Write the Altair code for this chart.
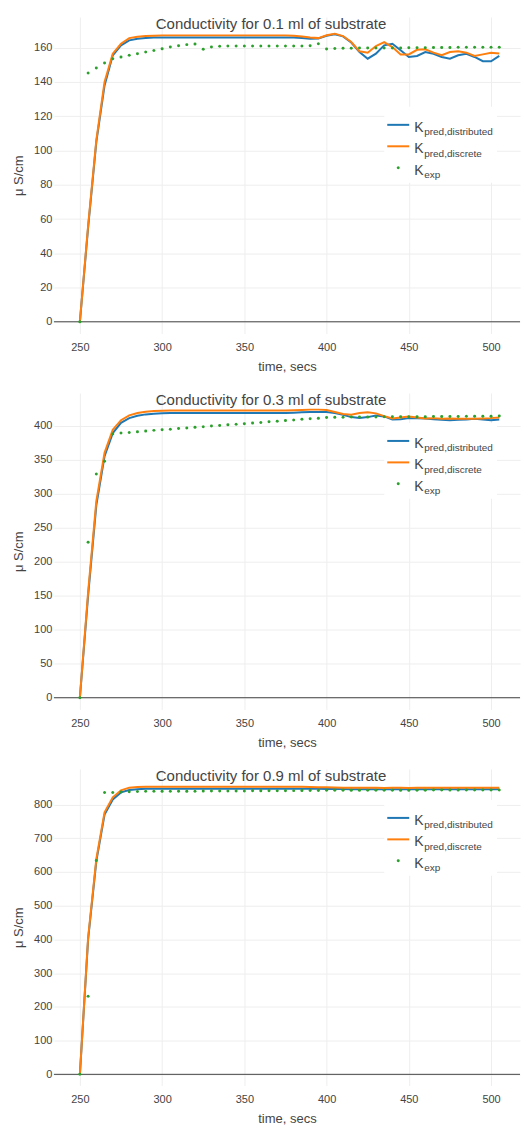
import altair as alt
import pandas as pd

# ---------------- data ----------------
time = [250, 255, 260, 265, 270, 275, 280, 285, 290, 295,
        300, 305, 310, 315, 320, 325, 330, 335, 340, 345,
        350, 355, 360, 365, 370, 375, 380, 385, 390, 395,
        400, 405, 410, 415, 420, 425, 430, 435, 440, 445,
        450, 455, 460, 465, 470, 475, 480, 485, 490, 495,
        500, 505]

p1_distributed = [0, 55, 105, 138, 155.6, 161.4, 164.3, 165.2, 165.6, 165.9,
                  166.0, 166.0, 166.0, 166.0, 166.0, 166.0, 166.0, 166.0, 166.0, 166.0,
                  166.0, 166.0, 166.0, 166.0, 166.0, 166.0,
                  165.9, 165.6, 165.2, 165.4, 167.0, 167.8, 166.6, 163.0, 157.5, 153.6,
                  156.5, 161.4, 162.3, 158.5, 154.6, 155.2, 157.5, 156.5, 154.6, 153.6,
                  155.6, 156.5, 154.6, 152.1, 152.1, 155.2]
p1_discrete = [0, 56, 106, 140, 156.5, 162.3, 165.6, 166.4, 166.8, 167.0,
               167.2, 167.2, 167.2, 167.2, 167.2, 167.2, 167.2, 167.2, 167.2, 167.2,
               167.2, 167.2, 167.2, 167.2, 167.2, 167.2,
               167.0, 166.5, 165.9, 165.6, 167.3, 168.2, 166.8, 163.3, 157.9, 157.1,
               161.0, 163.3, 160.4, 156.1, 156.1, 158.8, 159.1, 157.1, 155.6, 157.5,
               157.9, 157.1, 155.2, 156.1, 157.1, 156.6]
p1_exp = [0, 145.3, 148.2, 151.1, 153.5, 154.6, 155.6, 156.5, 157.5, 158.3,
          159.4, 160.4, 161.2, 161.8, 162.2, 159.1, 160.4, 160.9, 161.0, 161.0,
          161.0, 161.0, 161.0, 161.0, 161.0, 161.0,
          161.0, 161.0, 161.1, 162.3, 159.2, 159.6, 159.7, 159.7, 159.8, 159.8,
          159.8, 159.9, 159.9, 159.9, 160.0, 160.0, 160.0, 160.1, 160.1, 160.1,
          160.2, 160.2, 160.2, 160.3, 160.3, 160.3]

p2_distributed = [0, 150, 283, 355, 389, 404, 411, 414.5, 416.5, 417.5, 418,
                  418.5, 418.5, 418.5, 418.5, 418.5, 418.5, 418.5, 418.5, 418.5, 418.5,
                  418.5, 418.5, 418.5, 418.5, 418.5,
                  419, 419.5, 420, 420, 420, 418.5, 416, 412.5, 411.2, 412.5,
                  415, 413.5, 409, 409.5, 411, 411, 410.5, 409.5, 408.5, 408,
                  408.5, 409, 410, 409, 408, 409]
p2_discrete = [0, 155, 289, 360, 394, 408, 415, 418.5, 420.5, 421.5, 422,
               422.2, 422.2, 422.2, 422.2, 422.2, 422.2, 422.2, 422.2, 422.2, 422.2,
               422.2, 422.2, 422.2, 422.2, 422.2,
               422.5, 423, 423.5, 423.5, 423, 420, 417, 416, 418.5, 419.5,
               418, 414, 410.5, 412, 413.5, 412, 410.5, 411, 410, 410.5,
               410, 410, 410, 410.5, 411, 412]
p2_exp = [0, 228.4, 329, 347.7, 387.7, 389, 390, 391, 392, 393, 394,
          394.8, 395.7, 396.6, 397.5, 398.4, 399.3, 400.2, 401.1, 402,
          402.9, 403.8, 404.7, 405.6, 406.5, 407.4,
          408.3, 409.2, 410.1, 411, 411.8, 412.2, 412.4, 412.5, 412.6, 412.7,
          412.8, 412.9, 413, 413, 413.1, 413.2, 413.2, 413.3, 413.4, 413.5,
          413.5, 413.6, 413.7, 413.8, 413.9, 414]

p3_distributed = [0, 400, 632, 770, 815, 836, 843, 845.5, 846.5, 847,
                  847, 847, 847, 847, 847, 847, 847, 847, 847, 847,
                  847, 847, 847, 847, 847, 847, 847, 847,
                  846.5, 846.5, 846, 846, 846, 845.5, 845.5, 845.5, 845.5, 845.5,
                  845.5, 845.5, 845.5, 845.5, 845.5, 845.5, 845.5, 845.5, 845.5, 845.5,
                  845.5, 845.5, 845.5, 845.5]
p3_discrete = [0, 405, 639, 777, 821.5, 842, 850, 852, 852.5, 853,
               853, 853, 853, 853, 853, 853, 853, 853, 853, 853,
               853, 853, 853, 853, 853, 853, 853, 853,
               852, 851.5, 851, 850.5, 850, 849.5, 849.5, 850, 849.5, 849,
               849.5, 849.5, 849, 849.5, 849.5, 849.5, 849.5, 849.5, 849.5, 849.5,
               849.5, 849.5, 849.5, 849.5]
p3_exp = [0, 231.7, 634.2, 835.5, 836, 837, 838, 838.5, 839, 839, 839.2,
          839.3, 839.4, 839.5, 839.6, 839.8, 839.9, 840, 840.1, 840.2,
          840.4, 840.5, 840.6, 840.8, 840.9, 841, 841.2, 841.4, 841.6, 841.8,
          842,
          842.1, 842.1, 842.2, 842.2, 842.3, 842.3, 842.4, 842.4, 842.5, 842.5,
          842.6, 842.6, 842.7, 842.7, 842.8, 842.8, 842.9, 842.9, 843, 843, 843.1]

titles = ["Conductivity for 0.1 ml of substrate",
          "Conductivity for 0.3 ml of substrate",
          "Conductivity for 0.9 ml of substrate"]
y_domains = [[-6.8, 177.9], [-17.2, 447.9], [-32.8, 905.3]]
y_ticks = [[0, 20, 40, 60, 80, 100, 120, 140, 160],
           [0, 50, 100, 150, 200, 250, 300, 350, 400],
           [0, 100, 200, 300, 400, 500, 600, 700, 800]]
x_ticks = [250, 300, 350, 400, 450, 500]
series_names = ["distributed", "discrete"]
legend_subs = ["pred,distributed", "pred,discrete", "exp"]

# ---------------- style ----------------
FONT = "Liberation Sans, Arial, sans-serif"
BLUE, ORANGE, GREEN = "#1f77b4", "#ff7f0e", "#2ca02c"
TXT = "#444444"
W, H = 467, 317
XDOM = [234.2, 517.6]
one = pd.DataFrame({"a": [0]})


def legend_layers(ly):
    out = []
    out.append(alt.Chart(one).mark_rect(fill="white").encode(
        x=alt.value(331), x2=alt.value(444), y=alt.value(ly - 18), y2=alt.value(ly + 58)))
    out.append(alt.Chart(one).mark_rule(color=BLUE, strokeWidth=2).encode(
        x=alt.value(334), x2=alt.value(356), y=alt.value(ly)))
    out.append(alt.Chart(one).mark_rule(color=ORANGE, strokeWidth=2).encode(
        x=alt.value(334), x2=alt.value(356), y=alt.value(ly + 21.5)))
    out.append(alt.Chart(one).mark_circle(color=GREEN, size=9, opacity=1).encode(
        x=alt.value(345), y=alt.value(ly + 43)))
    for i, sub in enumerate(legend_subs):
        yy = ly + 21.5 * i
        out.append(alt.Chart(one).mark_text(text="K", align="left", baseline="middle",
                                            fontSize=14, font=FONT, color=TXT).encode(
            x=alt.value(361), y=alt.value(yy + 3)))
        out.append(alt.Chart(one).mark_text(text=sub, align="left", baseline="middle",
                                            fontSize=10, font=FONT, color=TXT).encode(
            x=alt.value(371), y=alt.value(yy + 7.5)))
    return out


def panel(title, dist, disc, exp, ydom, yticks, ly):
    n = len(time)
    lines_df = pd.DataFrame({"time": time * 2, "value": dist + disc,
                             "series": [series_names[0]] * n + [series_names[1]] * n})
    exp_df = pd.DataFrame({"time": time, "value": exp})
    yscale = alt.Scale(domain=ydom, nice=False, zero=False)
    yaxis = alt.Axis(values=yticks, title="μ S/cm", labelOverlap=False, tickCount=len(yticks))
    x = alt.X("time:Q", scale=alt.Scale(domain=XDOM, nice=False, zero=False),
              axis=alt.Axis(values=x_ticks, title="time, secs"))
    y = alt.Y("value:Q", scale=yscale, axis=yaxis)
    color = alt.Color("series:N", scale=alt.Scale(domain=series_names, range=[BLUE, ORANGE]),
                      legend=None)
    zero = alt.Chart(one).mark_rule(color=TXT, strokeWidth=1).encode(
        y=alt.Y(datum=0, type="quantitative", scale=yscale, axis=yaxis))
    l1 = alt.Chart(lines_df).transform_filter(alt.datum.series == series_names[0]).mark_line(
        strokeWidth=2).encode(x=x, y=y, color=color)
    l2 = alt.Chart(lines_df).transform_filter(alt.datum.series == series_names[1]).mark_line(
        strokeWidth=2).encode(x=x, y=y, color=color)
    pts = alt.Chart(exp_df).mark_circle(color=GREEN, size=9, opacity=1).encode(x=x, y=y)
    ttl = alt.Chart(one).mark_text(text=title, fontSize=15, font=FONT, color=TXT,
                                   align="center", baseline="middle").encode(
        x=alt.value(217.5), y=alt.value(6.7))
    return alt.layer(zero, l1, l2, pts, *legend_layers(ly), ttl).properties(width=W, height=H)


p1 = panel(titles[0], p1_distributed, p1_discrete, p1_exp, y_domains[0], y_ticks[0], 108)
p2 = panel(titles[1], p2_distributed, p2_discrete, p2_exp, y_domains[1], y_ticks[1], 48)
p3 = panel(titles[2], p3_distributed, p3_discrete, p3_exp, y_domains[2], y_ticks[2], 49)

chart = alt.vconcat(p1, p2, p3, spacing=59.7, bounds="flush").properties(
    padding={"left": 12, "top": 15, "right": 1, "bottom": 0},
    background="white",
).configure_axis(
    grid=True, gridColor="#eeeeee", gridWidth=1, domain=False, ticks=False,
    labelColor=TXT, labelFontSize=11, labelFont=FONT, labelOverlap=False,
    titleColor=TXT, titleFontSize=13, titleFont=FONT, titleFontWeight="normal",
).configure_axisX(labelPadding=8, titlePadding=8).configure_axisY(
    labelPadding=2, titlePadding=8
).configure_view(stroke=None)

chart.save("out.html", embed_options={"renderer": "svg", "actions": False})
